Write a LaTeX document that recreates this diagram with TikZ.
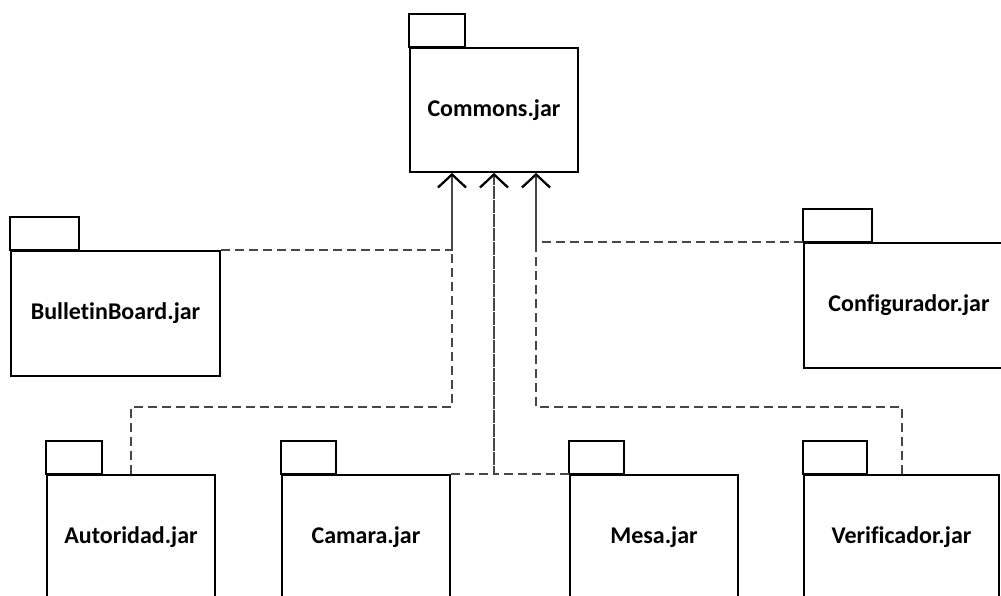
\documentclass[tikz,border=0pt]{standalone}
\usepackage{fontspec}
\setmainfont{Carlito}[Ligatures=NoCommon]
\usepackage{tikz}
\usetikzlibrary{arrows.meta}

\tikzset{
  pkg/.style={draw, line width=2.2pt, inner sep=0pt, minimum height=125pt,
    font=\bfseries\fontsize{24}{28}\selectfont},
  dep/.style={dashed, dash pattern=on 9pt off 5pt, line width=1.8pt, draw=black!72},
  uses/.style={dep, -{Straight Barb[length=13pt, width=28pt, line width=2pt, color=black]}}
}

\begin{document}
\begin{tikzpicture}[x=1pt, y=-1pt]
    \useasboundingbox (0,0) rectangle (1001,595);
    \clip (0,0) rectangle (1001,595);
    \fill[white] (0,0) rectangle (1001,595);

    % packages
    \node[pkg, minimum width=168pt, minimum height=124pt] (com) at (494,110) {Commons.jar};
    \node[pkg, minimum width=209pt] (bb) at (115.5,313.5) {BulletinBoard.jar};
    \node[pkg, minimum width=210pt] (cfg) at (909,305.5) {Configurador.jar};
    \node[pkg, minimum width=168pt] (aut) at (131,537.5) {Autoridad.jar};
    \node[pkg, minimum width=168pt] (cam) at (366,537.5) {Camara.jar};
    \node[pkg, minimum width=168pt] (mesa) at (654,537.5) {Mesa.jar};
    \node[pkg, minimum width=195pt] (ver) at (901.5,537.5) {Verificador.jar};

    % tabs
    \foreach \n/\w in {com/56, bb/69, cfg/69, aut/56, cam/55, mesa/55, ver/64}
        \draw[line width=2.2pt] (\n.north west) rectangle ++(\w,-33);

    \coordinate (inL) at ([xshift=-42pt]com.south);
    \coordinate (inM) at (com.south);
    \coordinate (inR) at ([xshift=42pt]com.south);

    % dependencies
    \draw[uses] (bb.north east) -| (inL);
    \draw[uses] (aut.north) -- ++(0,-67) -| (inL);
    \draw[uses] (cam.north east) -| (inM);
    \draw[uses] (mesa.north west) -| (inM);
    \draw[uses] (cfg.north west) -| (inR);
    \draw[uses] ([xshift=0.5pt]ver.north) -- ++(0,-67) -| (inR);
\end{tikzpicture}
\end{document}
